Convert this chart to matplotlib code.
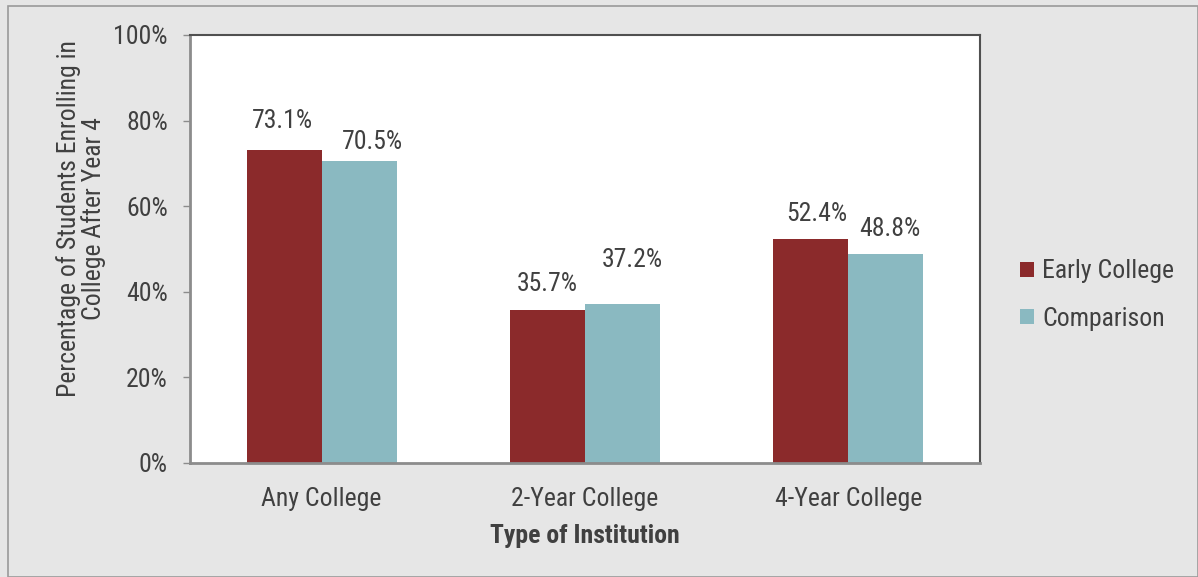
import matplotlib.pyplot as plt
import numpy as np
from matplotlib.patches import Rectangle

plt.rcParams['font.family'] = ['Roboto Condensed', 'DejaVu Sans']

categories = ['Any College', '2-Year College', '4-Year College']
early_college = [73.1, 35.7, 52.4]
comparison = [70.5, 37.2, 48.8]
series_names = ['Early College', 'Comparison']
y_ticks = [0, 20, 40, 60, 80, 100]

# value label nudges in pixels (dx, dy above the bar top)
early_offsets = [(-2, 29), (0, 26), (6, 25)]
comp_offsets = [(13, 19), (10, 44), (4, 25)]

red = '#8b2a2b'
teal = '#8ab9c1'
text_col = '#404040'
bg = '#e6e6e6'
fs = 18.5

fig = plt.figure(figsize=(11.98, 5.77), dpi=100, facecolor=bg)
# outer frame
fig.patches.append(Rectangle((8 / 1198, 0), 1 - 8 / 1198, 1 - 6 / 577, transform=fig.transFigure,
                             fill=False, edgecolor='#9a9a9a', linewidth=1.2))
ax = fig.add_axes([190 / 1198, 1 - 463 / 577, 790 / 1198, 428 / 577])
ax.set_facecolor('white')

x = np.arange(len(categories))
w = 0.285
b1 = ax.bar(x - w / 2, early_college, w, color=red, label=series_names[0])
b2 = ax.bar(x + w / 2, comparison, w, color=teal, label=series_names[1])

for bars, vals, offs in [(b1, early_college, early_offsets), (b2, comparison, comp_offsets)]:
    for r, v, (dx, dy) in zip(bars, vals, offs):
        ax.annotate(f'{v:.1f}%', (r.get_x() + r.get_width() / 2, v), xytext=(dx, dy),
                    textcoords='offset pixels', ha='center', va='center',
                    fontsize=fs, color=text_col)

ax.set_xlim(-0.5, 2.5)
ax.set_ylim(0, 100)
ax.set_yticks(y_ticks)
ax.set_yticklabels([f'{t}%' for t in y_ticks])
ax.set_xticks(x)
ax.set_xticklabels(categories)
ax.tick_params(axis='y', length=5, width=1, color='#8c8c8c', labelsize=fs, labelcolor=text_col, pad=11)
ax.tick_params(axis='x', length=0, labelsize=fs, labelcolor=text_col, pad=17)

for s in ['left', 'bottom']:
    ax.spines[s].set_color('#8c8c8c')
    ax.spines[s].set_linewidth(2)
for s in ['top', 'right']:
    ax.spines[s].set_color('#505050')
    ax.spines[s].set_linewidth(1.5)

ax.set_xlabel('Type of Institution', fontsize=fs, fontweight='bold', color=text_col, labelpad=10)
ax.set_ylabel('Percentage of Students Enrolling in\nCollege After Year 4', fontsize=fs,
              color=text_col, linespacing=1.0)
ax.yaxis.set_label_coords(-0.106, 0.570)

leg = fig.legend(handles=[b1, b2], labels=series_names, loc='center left',
                 bbox_to_anchor=(997 / 1198, 1 - 295 / 577), frameon=False, fontsize=fs,
                 handlelength=0.55, handleheight=0.55, handletextpad=0.3, labelspacing=0.9,
                 labelcolor=text_col)

fig.savefig('out.png', dpi=100, facecolor=bg)
